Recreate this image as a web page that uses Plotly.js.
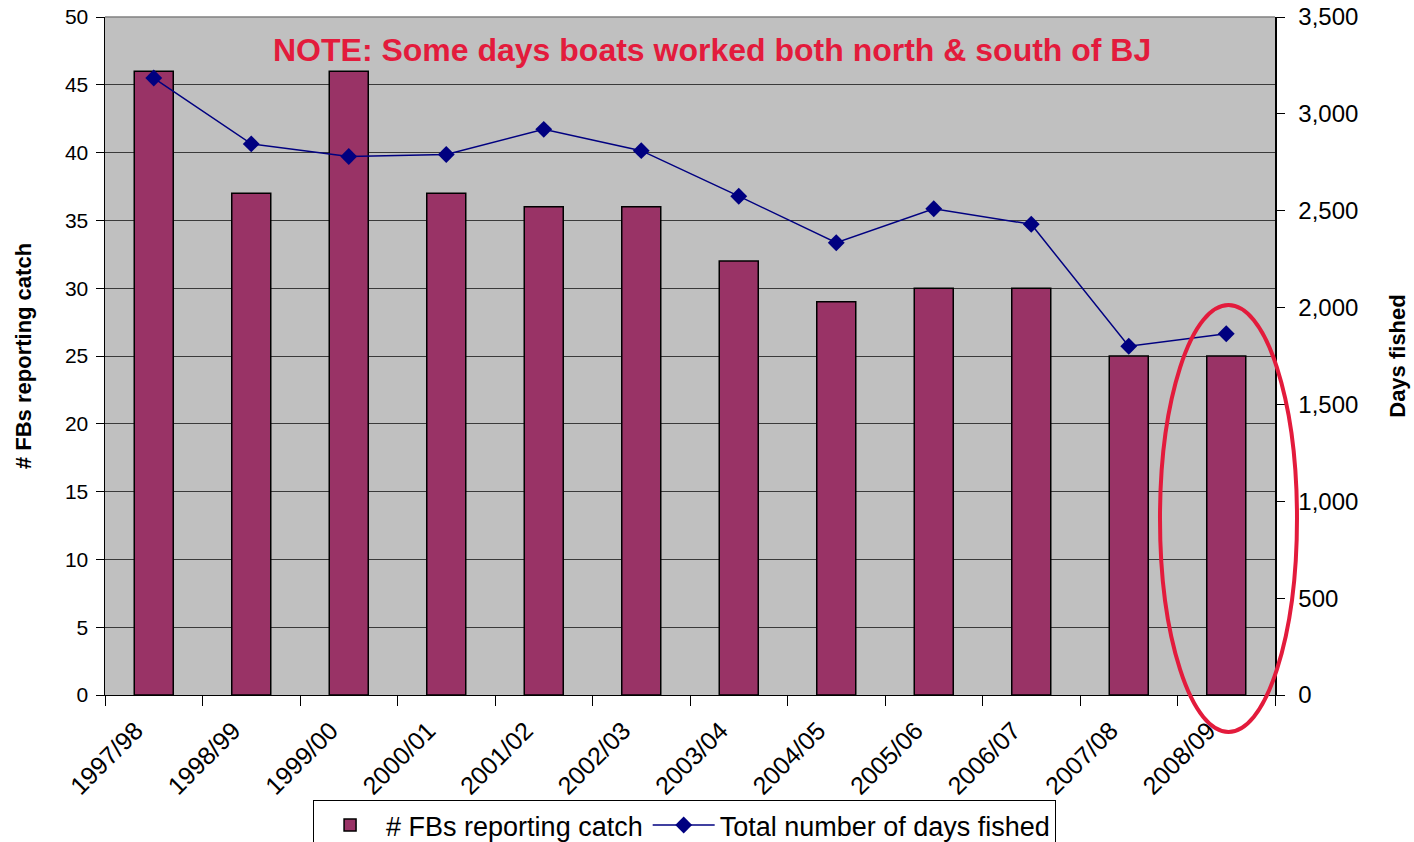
<!DOCTYPE html>
<html>
<head>
<meta charset="utf-8">
<script src="https://cdn.plot.ly/plotly-3.0.1.min.js"></script>
<style>html,body{margin:0;padding:0;background:#fff;}#chart{width:1414px;height:842px;}</style>
</head>
<body>
<div id="chart"></div>
<script>
const seasons = ["1997/98","1998/99","1999/00","2000/01","2001/02","2002/03","2003/04","2004/05","2005/06","2006/07","2007/08","2008/09"];
const fbsReporting = [46,37,46,37,36,36,32,29,30,30,25,25];
const daysFished = [3185,2845,2780,2790,2920,2810,2575,2335,2510,2430,1800,1865];
const barName = "# FBs reporting catch";
const lineName = "Total number of days fished";
const noteText = "NOTE: Some days boats worked both north & south of BJ";

const font = "Liberation Sans, Arial, sans-serif";
const traces = [
  {type:"bar", x:seasons, y:fbsReporting, name:barName, width:0.4,
   marker:{color:"#993366", line:{color:"#000000", width:1.5}}},
  {type:"scatter", mode:"lines+markers", x:seasons, y:daysFished, name:lineName, yaxis:"y2",
   line:{color:"#000080", width:1.5}, marker:{symbol:"diamond", size:13, color:"#000080"}}
];
const layout = {
  width:1414, height:842,
  margin:{l:105, r:139, t:17, b:147},
  paper_bgcolor:"#ffffff", plot_bgcolor:"#c0c0c0",
  font:{family:font, size:20, color:"#000"},
  showlegend:true,
  legend:{orientation:"h", xref:"container", yref:"container", x:0.2214, xanchor:"left", y:0.0499, yanchor:"top",
    bordercolor:"#000", borderwidth:1, font:{size:27, family:font}, traceorder:"normal",
    itemwidth:62, tracegroupgap:0},
  xaxis:{type:"category", tickangle:-45, tickson:"boundaries", ticks:"outside", ticklen:10,
    tickcolor:"#000", showline:true, linecolor:"#000", linewidth:1, showgrid:false,
    tickfont:{size:25, family:font}, range:[-0.5,11.5], automargin:false, ticklabelstandoff:10, ticklabelshift:-18},
  yaxis:{range:[0,50], dtick:5, ticks:"outside", ticklen:8, tickcolor:"#000",
    showline:true, linecolor:"#000", linewidth:1.5, showgrid:true, gridcolor:"#3a3a3a", gridwidth:1,
    zeroline:false, tickfont:{size:21, family:font}, automargin:false, ticklabelstandoff:3,
    title:{text:"<b># FBs reporting catch</b>", font:{size:22, family:font}, standoff:27}},
  yaxis2:{overlaying:"y", side:"right", range:[0,3500], dtick:500, tickformat:",",
    ticks:"outside", ticklen:8, tickcolor:"#000", showline:true, linecolor:"#000", linewidth:1.5,
    showgrid:false, zeroline:false, tickfont:{size:24, family:font}, automargin:false, ticklabelstandoff:9,
    title:{text:"<b>Days fished</b>", font:{size:22, family:font}, standoff:32}},
  annotations:[{xref:"paper", yref:"paper", x:0.5188, y:0.951, yanchor:"middle", xanchor:"center", showarrow:false,
    text:"<b>"+noteText+"</b>", font:{size:32, color:"#e31b3c", family:font}}],
  shapes:[{type:"circle", xref:"paper", yref:"paper", x0:0.9017, x1:1.0188, y0:-0.0546, y1:0.5752,
    line:{color:"#e31b3c", width:4}},
    {type:"line", xref:"paper", yref:"paper", x0:0, x1:1, y0:1, y1:1, line:{color:"#808080", width:1.5}}]
};
Plotly.newPlot("chart", traces, layout, {displayModeBar:false, staticPlot:true});
</script>
</body>
</html>
